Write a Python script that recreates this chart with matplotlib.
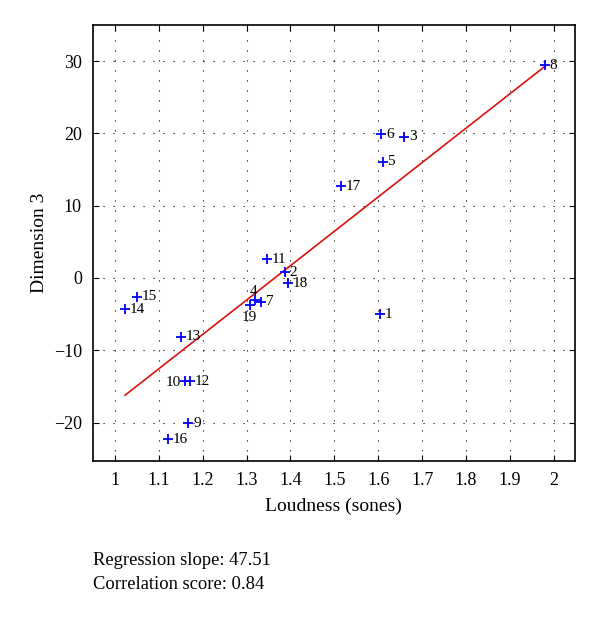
import numpy as np
import matplotlib.pyplot as plt

plt.rcParams['font.family'] = ['Liberation Serif', 'DejaVu Serif']

# loudness (sones) vs dimension 3 for the 19 stimuli
ids = ['1', '2', '3', '4', '5', '6', '7', '8', '9', '10',
       '11', '12', '13', '14', '15', '16', '17', '18', '19']
loudness = [1.604, 1.387, 1.659, 1.320, 1.610, 1.607, 1.333, 1.980, 1.167, 1.159,
            1.346, 1.171, 1.151, 1.023, 1.050, 1.121, 1.515, 1.395, 1.307]
dim3 = [-5.0, 0.8, 19.5, -3.0, 16.1, 19.9, -3.3, 29.4, -20.1, -14.3,
        2.6, -14.3, -8.1, -4.3, -2.6, -22.3, 12.7, -0.7, -3.7]
xticks = [1, 1.1, 1.2, 1.3, 1.4, 1.5, 1.6, 1.7, 1.8, 1.9, 2]
yticks = [-20, -10, 0, 10, 20, 30]

x = np.array(loudness)
y = np.array(dim3)
slope, icpt = np.polyfit(x, y, 1)

fig = plt.figure(figsize=(6, 6.17), dpi=100)
ax = fig.add_axes([0.155, 0.253, 0.803, 0.7066])

xl = np.array([x.min(), x.max()])
ax.plot(xl, slope * xl + icpt, color='#dd1010', lw=1.2)
ax.plot(x, y, '+', color='blue', ms=6.5, mew=1.3)

# label offsets (points): most sit just right of the marker
offs = {'10': (-14, -1), '4': (-4, 6), '19': (-6, -9)}
for i, xi, yi in zip(ids, x, y):
    dx, dy = offs.get(i, (3.5, 0))
    ax.annotate(i, (xi, yi), xytext=(dx, dy), textcoords='offset points',
                ha='left', va='center', fontsize=11)

ax.set_xlim(0.95, 2.048)
ax.set_ylim(-25.3, 35)
ax.set_xticks(xticks)
ax.set_xticklabels([f'{t:g}' for t in xticks])
ax.set_yticks(yticks)
ax.set_yticklabels([f'{t}'.replace('-', '\u2212') for t in yticks])
ax.tick_params(direction='in', top=True, right=True, labelsize=13, length=4)
ax.tick_params(axis='y', pad=8)
ax.tick_params(axis='x', pad=8)
ax.grid(True, color='black', linestyle=(0, (1, 8)), lw=0.8)
for s in ax.spines.values():
    s.set_linewidth(1.2)

ax.set_xlabel('Loudness (sones)', fontsize=14, labelpad=6)
ax.set_ylabel('Dimension 3', fontsize=14, labelpad=4)

fig.text(0.155, 0.085, 'Regression slope: 47.51', fontsize=13.3)
fig.text(0.155, 0.045, 'Correlation score: 0.84', fontsize=13.3)

fig.savefig('out.png', dpi=100)
